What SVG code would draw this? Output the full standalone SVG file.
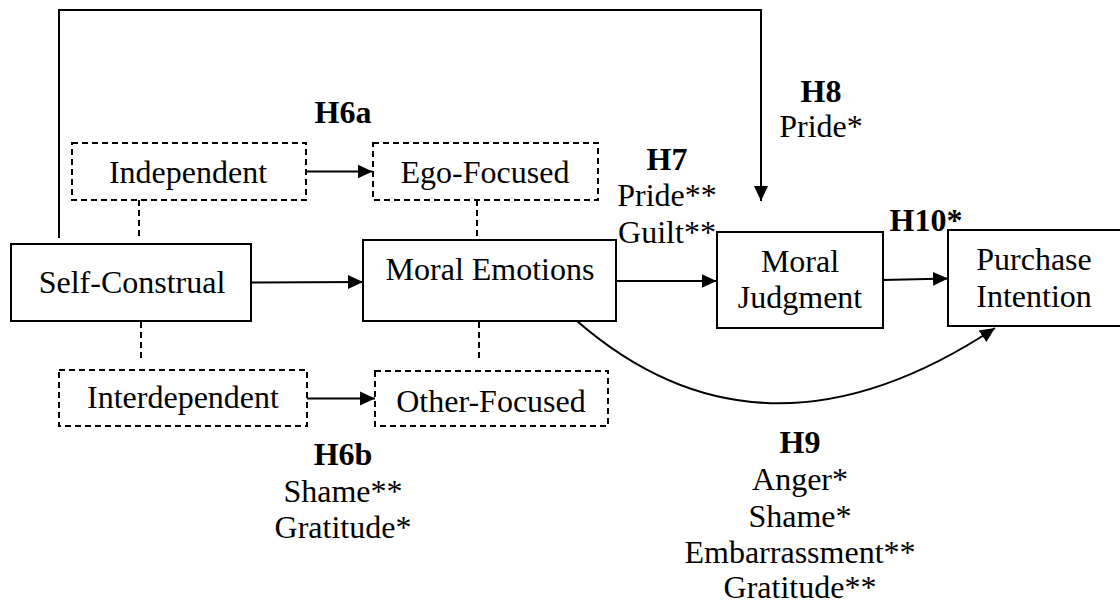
<svg xmlns="http://www.w3.org/2000/svg" width="1120" height="604" viewBox="0 0 1120 604">
<style>
.box{fill:#fff;stroke:#000;stroke-width:2}
.dbox{fill:#fff;stroke:#000;stroke-width:2;stroke-dasharray:6 4}
.dl{fill:none;stroke:#000;stroke-width:2;stroke-dasharray:6 4}
.ln{fill:none;stroke:#000;stroke-width:2}
.t text{font-size:32px;fill:#000;text-anchor:middle}
.b{font-weight:bold}
</style>
<defs>
<marker id="ah" markerWidth="16" markerHeight="16" refX="15" refY="8" orient="auto" markerUnits="userSpaceOnUse">
<path d="M0,1 L15,8 L0,15 Z" fill="#000"/>
</marker>
</defs>
<rect width="1120" height="604" fill="#fff"/>
<g id="connectors">
<path class="ln" d="M59,238 V10 H761 V201" marker-end="url(#ah)"/>
<line class="ln" x1="306" y1="171.5" x2="372.5" y2="171.5" marker-end="url(#ah)"/>
<line class="ln" x1="251" y1="282.5" x2="363" y2="282" marker-end="url(#ah)"/>
<line class="ln" x1="616" y1="281" x2="716.5" y2="281" marker-end="url(#ah)"/>
<line class="ln" x1="883" y1="280" x2="948" y2="278.5" marker-end="url(#ah)"/>
<line class="ln" x1="307" y1="398.5" x2="375" y2="398.5" marker-end="url(#ah)"/>
<path class="ln" d="M577,321 Q762,482 995,328" marker-end="url(#ah)"/>
<line class="dl" x1="139" y1="200" x2="139" y2="240"/>
<line class="dl" x1="477" y1="200" x2="477" y2="240"/>
<line class="dl" x1="141" y1="322" x2="141" y2="358"/>
<line class="dl" x1="479" y1="322" x2="479" y2="358"/>
</g>
<g class="t" font-family="'Liberation Serif', 'Times New Roman', Times, 'DejaVu Serif', serif">
<g id="independent">
<rect class="dbox" x="72" y="143" width="234" height="57"/>
<text x="188" y="183">Independent</text>
</g>
<g id="ego-focused">
<rect class="dbox" x="373" y="143" width="225" height="57"/>
<text x="485" y="183">Ego-Focused</text>
</g>
<g id="self-construal">
<rect class="box" x="11" y="244" width="240" height="77"/>
<text x="132" y="293">Self-Construal</text>
</g>
<g id="moral-emotions">
<rect class="box" x="363" y="240" width="253" height="81"/>
<text x="490" y="280">Moral Emotions</text>
</g>
<g id="moral-judgment">
<rect class="box" x="717" y="232" width="166" height="96"/>
<text x="800" y="272">Moral</text>
<text x="800" y="308">Judgment</text>
</g>
<g id="purchase-intention">
<rect class="box" x="948" y="230" width="190" height="96"/>
<text x="1034" y="270">Purchase</text>
<text x="1034" y="307">Intention</text>
</g>
<g id="interdependent">
<rect class="dbox" x="59" y="370" width="248" height="56"/>
<text x="183" y="408">Interdependent</text>
</g>
<g id="other-focused">
<rect class="dbox" x="375" y="371" width="233" height="55"/>
<text x="491" y="412">Other-Focused</text>
</g>
<g id="labels">
<text class="b" x="343" y="123">H6a</text>
<text class="b" x="667" y="170">H7</text>
<text x="667" y="206">Pride**</text>
<text x="667" y="243">Guilt**</text>
<text class="b" x="821" y="102">H8</text>
<text x="821" y="137">Pride*</text>
<text class="b" x="926" y="231">H10*</text>
<text class="b" x="343" y="465">H6b</text>
<text x="343" y="502">Shame**</text>
<text x="343" y="538">Gratitude*</text>
<text class="b" x="800" y="453">H9</text>
<text x="800" y="490">Anger*</text>
<text x="800" y="527">Shame*</text>
<text x="800" y="563">Embarrassment**</text>
<text x="800" y="598">Gratitude**</text>
</g>
</g>
</svg>
